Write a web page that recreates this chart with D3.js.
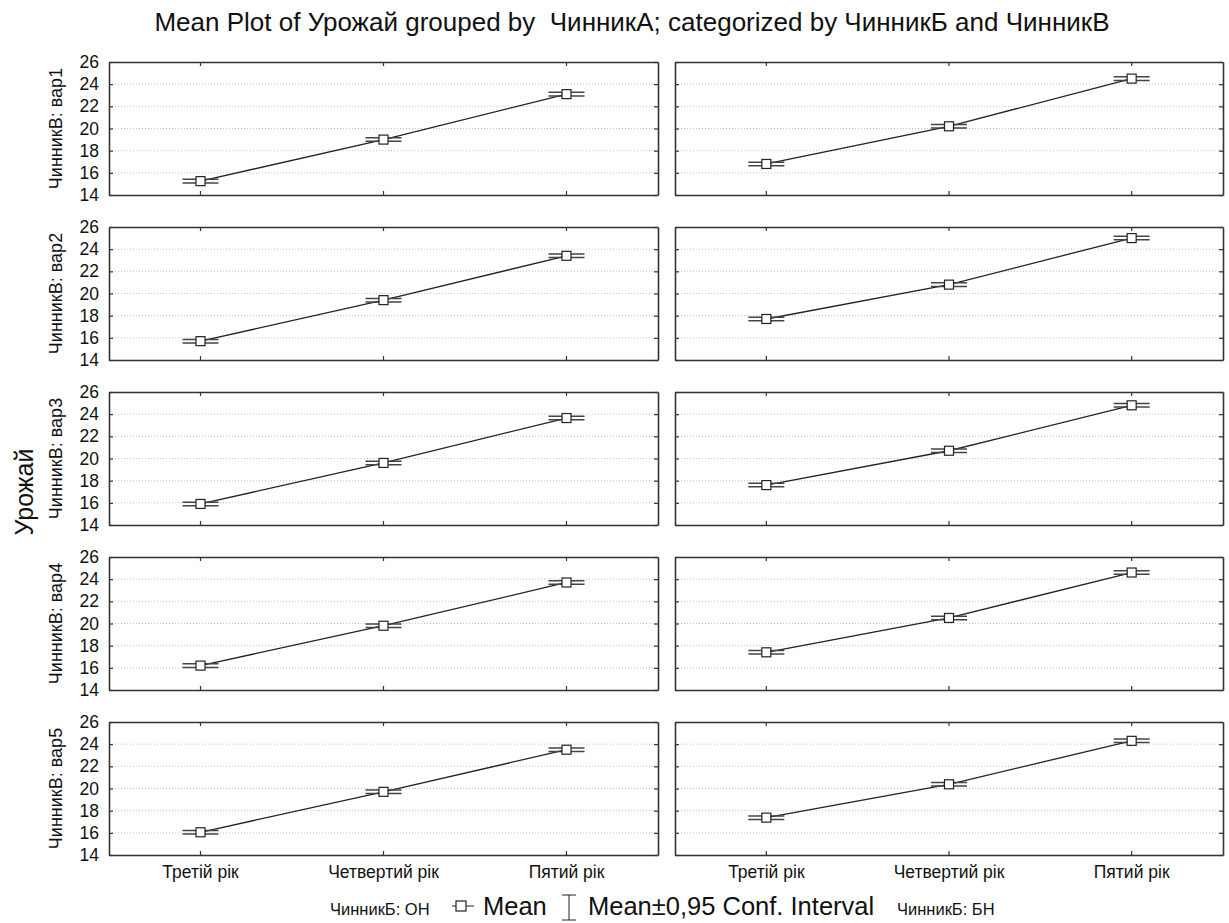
<!DOCTYPE html>
<html><head><meta charset="utf-8">
<script src="https://cdn.jsdelivr.net/npm/d3@7"></script>
<style>body{margin:0;background:#fff}svg{display:block}text{font-family:Arial,"Liberation Sans",sans-serif;fill:#111}</style>
</head><body><svg id="c" width="1229" height="923"></svg>
<script>
// ---- data ----
const categories = ["Третій рік", "Четвертий рік", "Пятий рік"];
const rowLevels = ["вар1", "вар2", "вар3", "вар4", "вар5"];
const colLevels = ["ОН", "БН"];
const yTicks = [14, 16, 18, 20, 22, 24, 26];
const meansOH = [
  [15.25, 19.0, 23.1],
  [15.7, 19.4, 23.4],
  [15.9, 19.6, 23.65],
  [16.2, 19.8, 23.7],
  [16.05, 19.7, 23.5]
];
const meansBH = [
  [16.8, 20.2, 24.5],
  [17.7, 20.8, 25.0],
  [17.6, 20.7, 24.8],
  [17.4, 20.5, 24.6],
  [17.37, 20.38, 24.3]
];
const ciOH = [
  [0.16, 0.16, 0.16],
  [0.16, 0.16, 0.16],
  [0.16, 0.16, 0.16],
  [0.16, 0.16, 0.16],
  [0.16, 0.16, 0.16]
];
const ciBH = [
  [0.16, 0.16, 0.16],
  [0.16, 0.16, 0.16],
  [0.16, 0.16, 0.16],
  [0.16, 0.16, 0.16],
  [0.16, 0.16, 0.16]
];
const title = "Mean Plot of Урожай grouped by  ЧинникА; categorized by ЧинникБ and ЧинникВ";
const yTitle = "Урожай";

// ---- layout ----
const svg = d3.select("#c");
const colX = [[109, 658], [675, 1223]];
const rowTop0 = 62, rowPitch = 165, panelH = 133;
const allMeans = [meansOH, meansBH];
const allCI = [ciOH, ciBH];
const axisCol = "#333";

svg.append("text").attr("x", 632).attr("y", 31).attr("text-anchor", "middle")
  .attr("xml:space", "preserve").style("white-space", "pre")
  .style("font-size", "26px").text(title);

svg.append("text").attr("transform", "translate(33,492) rotate(-90)")
  .attr("text-anchor", "middle").style("font-size", "25px").text(yTitle);

rowLevels.forEach((rv, r) => {
  const top = rowTop0 + r * rowPitch;
  const y = d3.scaleLinear().domain([14, 26]).range([top + panelH, top]);
  svg.append("text")
    .attr("transform", `translate(62,${top + panelH / 2}) rotate(-90)`)
    .attr("text-anchor", "middle").style("font-size", "18px").text("ЧинникВ: " + rv);
  colLevels.forEach((cv, c) => {
    const x = d3.scaleBand().domain(categories).range(colX[c]);
    const g = svg.append("g");
    const [x0, x1] = colX[c];
    // grid
    g.selectAll("line.grid").data(yTicks.slice(1, -1)).join("line")
      .attr("x1", x0).attr("x2", x1).attr("y1", d => y(d)).attr("y2", d => y(d))
      .attr("stroke", "#c4c4c4").attr("stroke-width", 1).attr("stroke-dasharray", "1,2");
    // axes (ticks inward)
    const ax = [
      d3.axisLeft(y).tickValues(yTicks).tickSize(-4).tickFormat(c === 0 ? d3.format("d") : ""),
      d3.axisRight(y).tickValues(yTicks).tickSize(-4).tickFormat(""),
      d3.axisBottom(x).tickSize(-4).tickFormat(r === rowLevels.length - 1 ? null : ""),
      d3.axisTop(x).tickSize(-4).tickFormat("")
    ];
    const tr = [`translate(${x0},0)`, `translate(${x1},0)`, `translate(0,${top + panelH})`, `translate(0,${top})`];
    ax.forEach((a, i) => {
      const ag = g.append("g").attr("transform", tr[i]).call(a.tickSizeOuter(0));
      ag.select(".domain").attr("stroke", axisCol).attr("stroke-width", 1.6);
      ag.selectAll(".tick line").attr("stroke", axisCol).attr("stroke-width", 1.2);
      ag.selectAll(".tick text").style("font-size", "17.5px").attr("fill", "#111")
        .style("font-family", "Arial, 'Liberation Sans', sans-serif");
      if (i === 0) ag.selectAll(".tick text").attr("x", -10);
      if (i === 2) ag.selectAll(".tick text").attr("y", 11);
    });
    const pts = categories.map((k, i) => ({ k, m: allMeans[c][r][i], ci: allCI[c][r][i] }));
    const cx = d => x(d.k) + x.bandwidth() / 2;
    g.append("path").datum(pts)
      .attr("d", d3.line().x(cx).y(d => y(d.m)))
      .attr("fill", "none").attr("stroke", "#222").attr("stroke-width", 1.3);
    // CI
    const ci = g.selectAll("g.ci").data(pts).join("g");
    ci.append("line").attr("x1", cx).attr("x2", cx)
      .attr("y1", d => y(d.m - d.ci)).attr("y2", d => y(d.m + d.ci)).attr("stroke", "#444");
    ["lo", "hi"].forEach(s => {
      ci.append("line")
        .attr("x1", d => cx(d) - 18).attr("x2", d => cx(d) + 18)
        .attr("y1", d => y(s === "lo" ? d.m - d.ci : d.m + d.ci))
        .attr("y2", d => y(s === "lo" ? d.m - d.ci : d.m + d.ci))
        .attr("stroke", "#444").attr("stroke-width", 1.5);
    });
    g.selectAll("rect.m").data(pts).join("rect")
      .attr("x", d => cx(d) - 4.5).attr("y", d => y(d.m) - 4.5)
      .attr("width", 9).attr("height", 9)
      .attr("fill", "#fff").attr("stroke", "#222").attr("stroke-width", 1.2);
  });
});

// legend
const lg = svg.append("g");
const ly = 915;
lg.append("text").attr("x", 330).attr("y", ly).style("font-size", "16.5px").text("ЧинникБ: " + colLevels[0]);
lg.append("line").attr("x1", 452).attr("x2", 474).attr("y1", ly - 9).attr("y2", ly - 9).attr("stroke", "#222");
lg.append("rect").attr("x", 456).attr("y", ly - 14).attr("width", 10).attr("height", 10)
  .attr("fill", "#fff").attr("stroke", "#222").attr("stroke-width", 1.2);
lg.append("text").attr("x", 483).attr("y", ly).style("font-size", "25.5px").text("Mean");
lg.append("line").attr("x1", 569).attr("x2", 569).attr("y1", ly - 20).attr("y2", ly + 5).attr("stroke", "#222");
lg.append("line").attr("x1", 562).attr("x2", 576).attr("y1", ly - 20).attr("y2", ly - 20).attr("stroke", "#222");
lg.append("line").attr("x1", 562).attr("x2", 576).attr("y1", ly + 5).attr("y2", ly + 5).attr("stroke", "#222");
lg.append("text").attr("x", 588).attr("y", ly).style("font-size", "25.5px").text("Mean±0,95 Conf. Interval");
lg.append("text").attr("x", 897).attr("y", ly).style("font-size", "16.5px").text("ЧинникБ: " + colLevels[1]);
</script></body></html>
